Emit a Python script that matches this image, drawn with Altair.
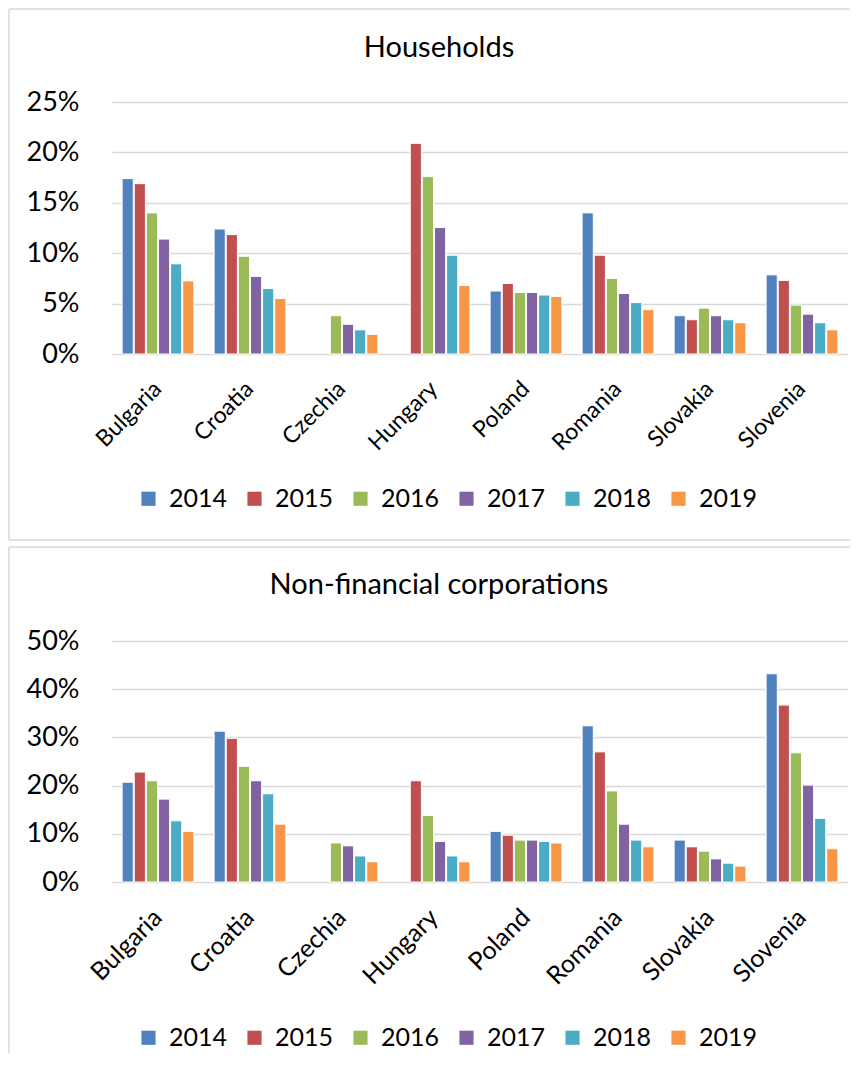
import altair as alt
import pandas as pd

countries = ["Bulgaria", "Croatia", "Czechia", "Hungary", "Poland", "Romania", "Slovakia", "Slovenia"]
years = ["2014", "2015", "2016", "2017", "2018", "2019"]
colors = ["#4f81bd", "#c0504d", "#9bbb59", "#8064a2", "#4bacc6", "#f79646"]

# Households (percent)
hh_2014 = [17.4, 12.4, None, None, 6.25, 14.0, 3.8, 7.85]
hh_2015 = [16.9, 11.85, None, 20.9, 7.0, 9.8, 3.4, 7.3]
hh_2016 = [14.0, 9.7, 3.8, 17.6, 6.1, 7.5, 4.55, 4.85]
hh_2017 = [11.4, 7.7, 2.95, 12.55, 6.1, 6.0, 3.8, 3.95]
hh_2018 = [8.95, 6.5, 2.4, 9.8, 5.85, 5.1, 3.4, 3.1]
hh_2019 = [7.25, 5.5, 1.95, 6.8, 5.7, 4.4, 3.1, 2.4]

# Non-financial corporations (percent)
nfc_2014 = [20.7, 31.3, None, None, 10.5, 32.4, 8.7, 43.2]
nfc_2015 = [22.8, 29.8, None, 21.0, 9.7, 27.0, 7.3, 36.7]
nfc_2016 = [21.0, 24.0, 8.1, 13.8, 8.7, 18.9, 6.4, 26.8]
nfc_2017 = [17.2, 21.0, 7.5, 8.4, 8.7, 12.0, 4.8, 20.1]
nfc_2018 = [12.7, 18.3, 5.4, 5.4, 8.4, 8.7, 3.9, 13.2]
nfc_2019 = [10.5, 12.0, 4.2, 4.2, 8.1, 7.3, 3.3, 6.9]

FONT = "Lato"
EDGE = "#d9d9d9"


def long_df(series):
    rows = []
    for y, vals in zip(years, series):
        for c, v in zip(countries, vals):
            if v is not None:
                rows.append({"country": c, "year": y, "value": v / 100.0})
    return pd.DataFrame(rows)


def panel(df, title, ymax, ystep, plot_h, title_y, rect_top, rect_bottom,
          xlab_size, bottom_edge):
    W = 736
    one = pd.DataFrame({"k": [0]})
    edges = [
        alt.Chart(one).mark_rule(color=EDGE, strokeWidth=1.5).encode(
            x=alt.value(-103), y=alt.value(rect_top), y2=alt.value(rect_bottom)),
        alt.Chart(one).mark_rule(color=EDGE, strokeWidth=1.5).encode(
            x=alt.value(-103), x2=alt.value(738), y=alt.value(rect_top)),
    ]
    if bottom_edge:
        edges.append(alt.Chart(one).mark_rule(color=EDGE, strokeWidth=1.5).encode(
            x=alt.value(-103), x2=alt.value(738), y=alt.value(rect_bottom)))
    ticks = [round(i * ystep, 4) for i in range(int(round(ymax / ystep)) + 1)]
    bars = alt.Chart(df).mark_bar(stroke="white", strokeWidth=1).encode(
        x=alt.X("country:N", sort=countries,
                scale=alt.Scale(paddingInner=0.22, paddingOuter=0.11),
                axis=alt.Axis(title=None, labelAngle=-45, labelAlign="right",
                              labelBaseline="middle", labelPadding=31,
                              labelFontSize=xlab_size, labelFont=FONT,
                              labelColor="black", ticks=False, domain=False,
                              grid=False)),
        xOffset=alt.XOffset("year:N", sort=years,
                            scale=alt.Scale(paddingInner=0.08)),
        y=alt.Y("value:Q", scale=alt.Scale(domain=[0, ymax], nice=False),
                axis=alt.Axis(title=None, format=".0%", values=ticks,
                              labelFontSize=27, labelFont=FONT,
                              labelColor="black", labelPadding=33,
                              ticks=False, domain=False, grid=True,
                              gridColor=EDGE, gridWidth=1.5)),
        color=alt.Color("year:N", sort=years,
                        scale=alt.Scale(domain=years, range=colors),
                        legend=alt.Legend(orient="none", legendX=24, legendY=384,
                                          direction="horizontal", columns=6,
                                          title=None, symbolType="square",
                                          symbolSize=200, symbolStrokeWidth=0,
                                          labelFontSize=25, labelFont=FONT,
                                          labelColor="black", labelOffset=8,
                                          columnPadding=14)),
    )
    ttl = alt.Chart(pd.DataFrame({"t": [title]})).mark_text(
        fontSize=29, font=FONT, color="black", align="center", baseline="alphabetic"
    ).encode(x=alt.value(327), y=alt.value(title_y), text="t:N")
    return alt.layer(*edges, bars, ttl).properties(width=W, height=plot_h)


hh_df = long_df([hh_2014, hh_2015, hh_2016, hh_2017, hh_2018, hh_2019])
nfc_df = long_df([nfc_2014, nfc_2015, nfc_2016, nfc_2017, nfc_2018, nfc_2019])

top = panel(hh_df, "Households", 0.25, 0.05, 252, -45, -93, 438, 23, True)
bottom = panel(nfc_df, "Non-financial corporations", 0.5, 0.1, 241, -47, -94, 412, 25, False)

chart = alt.vconcat(top, bottom, spacing=5).resolve_scale(
    color="independent"
).configure(padding=0, background="white").configure_view(stroke=None)

chart.save("out.html", embed_options={"renderer": "svg", "actions": False})
